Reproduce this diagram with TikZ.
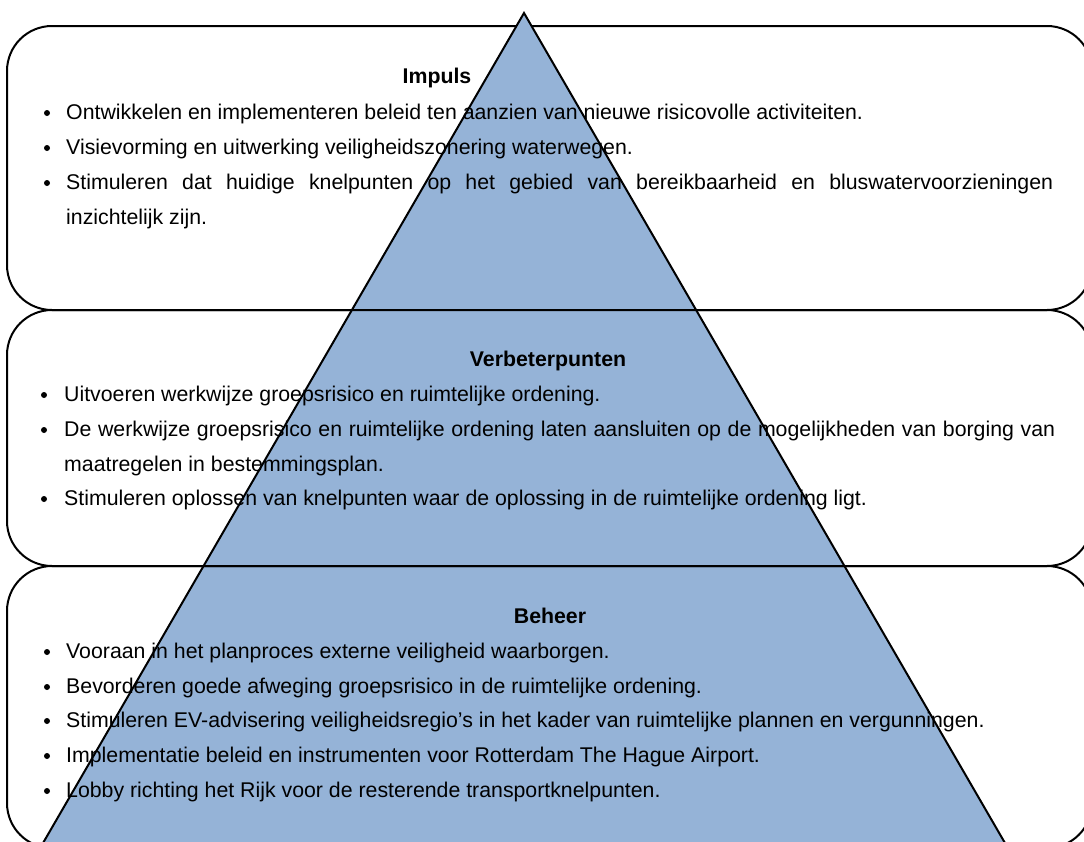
\documentclass[tikz,border=0pt]{standalone}
\usepackage{fontspec}
\setmainfont{Liberation Sans}
\usepackage{tikz}
\definecolor{pyramidblue}{RGB}{149,179,215}

\begin{document}
\begin{tikzpicture}[x=1pt,y=-1pt]
	\tikzstyle{panel}=[draw=black,line width=2pt,rounded corners=45pt]
	\tikzstyle{heading}=[anchor=base,inner sep=0pt,font=\fontsize{21.3}{25}\selectfont\bfseries]
	\tikzstyle{listitem}=[anchor=base west,inner sep=0pt,font=\fontsize{21.3}{25}\selectfont]
	\tikzstyle{bulletdot}=[circle,fill=black,inner sep=0pt,minimum size=6pt]
	\useasboundingbox (0,0) rectangle (1084,841);
	\clip (0,0) rectangle (1084,841);
	% top panel lies under the pyramid
	\draw[panel] (7,26) rectangle (1092,310);
	\filldraw[fill=pyramidblue,draw=black,line width=2pt,line join=miter] (524,13) -- (1038,900) -- (10,900) -- cycle;
	\draw[panel] (7,310) rectangle (1092,566);
	\draw[panel] (7,566) rectangle (1092,848);
	% Impuls
	\node[heading] (h1) at (437,83) {Impuls};
	\node[bulletdot] (d11) at (47,113) {};
	\node[listitem] (t11) at (66,119) {Ontwikkelen en implementeren beleid ten aanzien van nieuwe risicovolle activiteiten.};
	\node[bulletdot] (d12) at (47,148) {};
	\node[listitem] (t12) at (66,154) {Visievorming en uitwerking veiligheidszonering waterwegen.};
	\node[bulletdot] (d13) at (47,183) {};
	\node[listitem] (t13) at (66,189) {\makebox[987pt][s]{Stimuleren dat huidige knelpunten op het gebied van bereikbaarheid en bluswatervoorzieningen}};
	\node[listitem] (t14) at (66,224) {inzichtelijk zijn.};
	% Verbeterpunten
	\node[heading] (h2) at (548,366) {Verbeterpunten};
	\node[bulletdot] (d21) at (44,395) {};
	\node[listitem] (t21) at (64,401) {Uitvoeren werkwijze groepsrisico en ruimtelijke ordening.};
	\node[bulletdot] (d22) at (44,430) {};
	\node[listitem] (t22) at (64,436) {\makebox[991pt][s]{De werkwijze groepsrisico en ruimtelijke ordening laten aansluiten op de mogelijkheden van borging van}};
	\node[listitem] (t23) at (64,471) {maatregelen in bestemmingsplan.};
	\node[bulletdot] (d24) at (44,499) {};
	\node[listitem] (t24) at (64,505) {Stimuleren oplossen van knelpunten waar de oplossing in de ruimtelijke ordening ligt.};
	% Beheer
	\node[heading] (h3) at (550,623) {Beheer};
	\node[bulletdot] (d31) at (47,652) {};
	\node[listitem] (t31) at (66,658) {Vooraan in het planproces externe veiligheid waarborgen.};
	\node[bulletdot] (d32) at (47,687) {};
	\node[listitem] (t32) at (66,693) {Bevorderen goede afweging groepsrisico in de ruimtelijke ordening.};
	\node[bulletdot] (d33) at (47,721) {};
	\node[listitem] (t33) at (66,727) {Stimuleren EV-advisering veiligheidsregio’s in het kader van ruimtelijke plannen en vergunningen.};
	\node[bulletdot] (d34) at (47,756) {};
	\node[listitem] (t34) at (66,762) {Implementatie beleid en instrumenten voor Rotterdam The Hague Airport.};
	\node[bulletdot] (d35) at (47,791) {};
	\node[listitem] (t35) at (66,797) {Lobby richting het Rijk voor de resterende transportknelpunten.};
\end{tikzpicture}
\end{document}
